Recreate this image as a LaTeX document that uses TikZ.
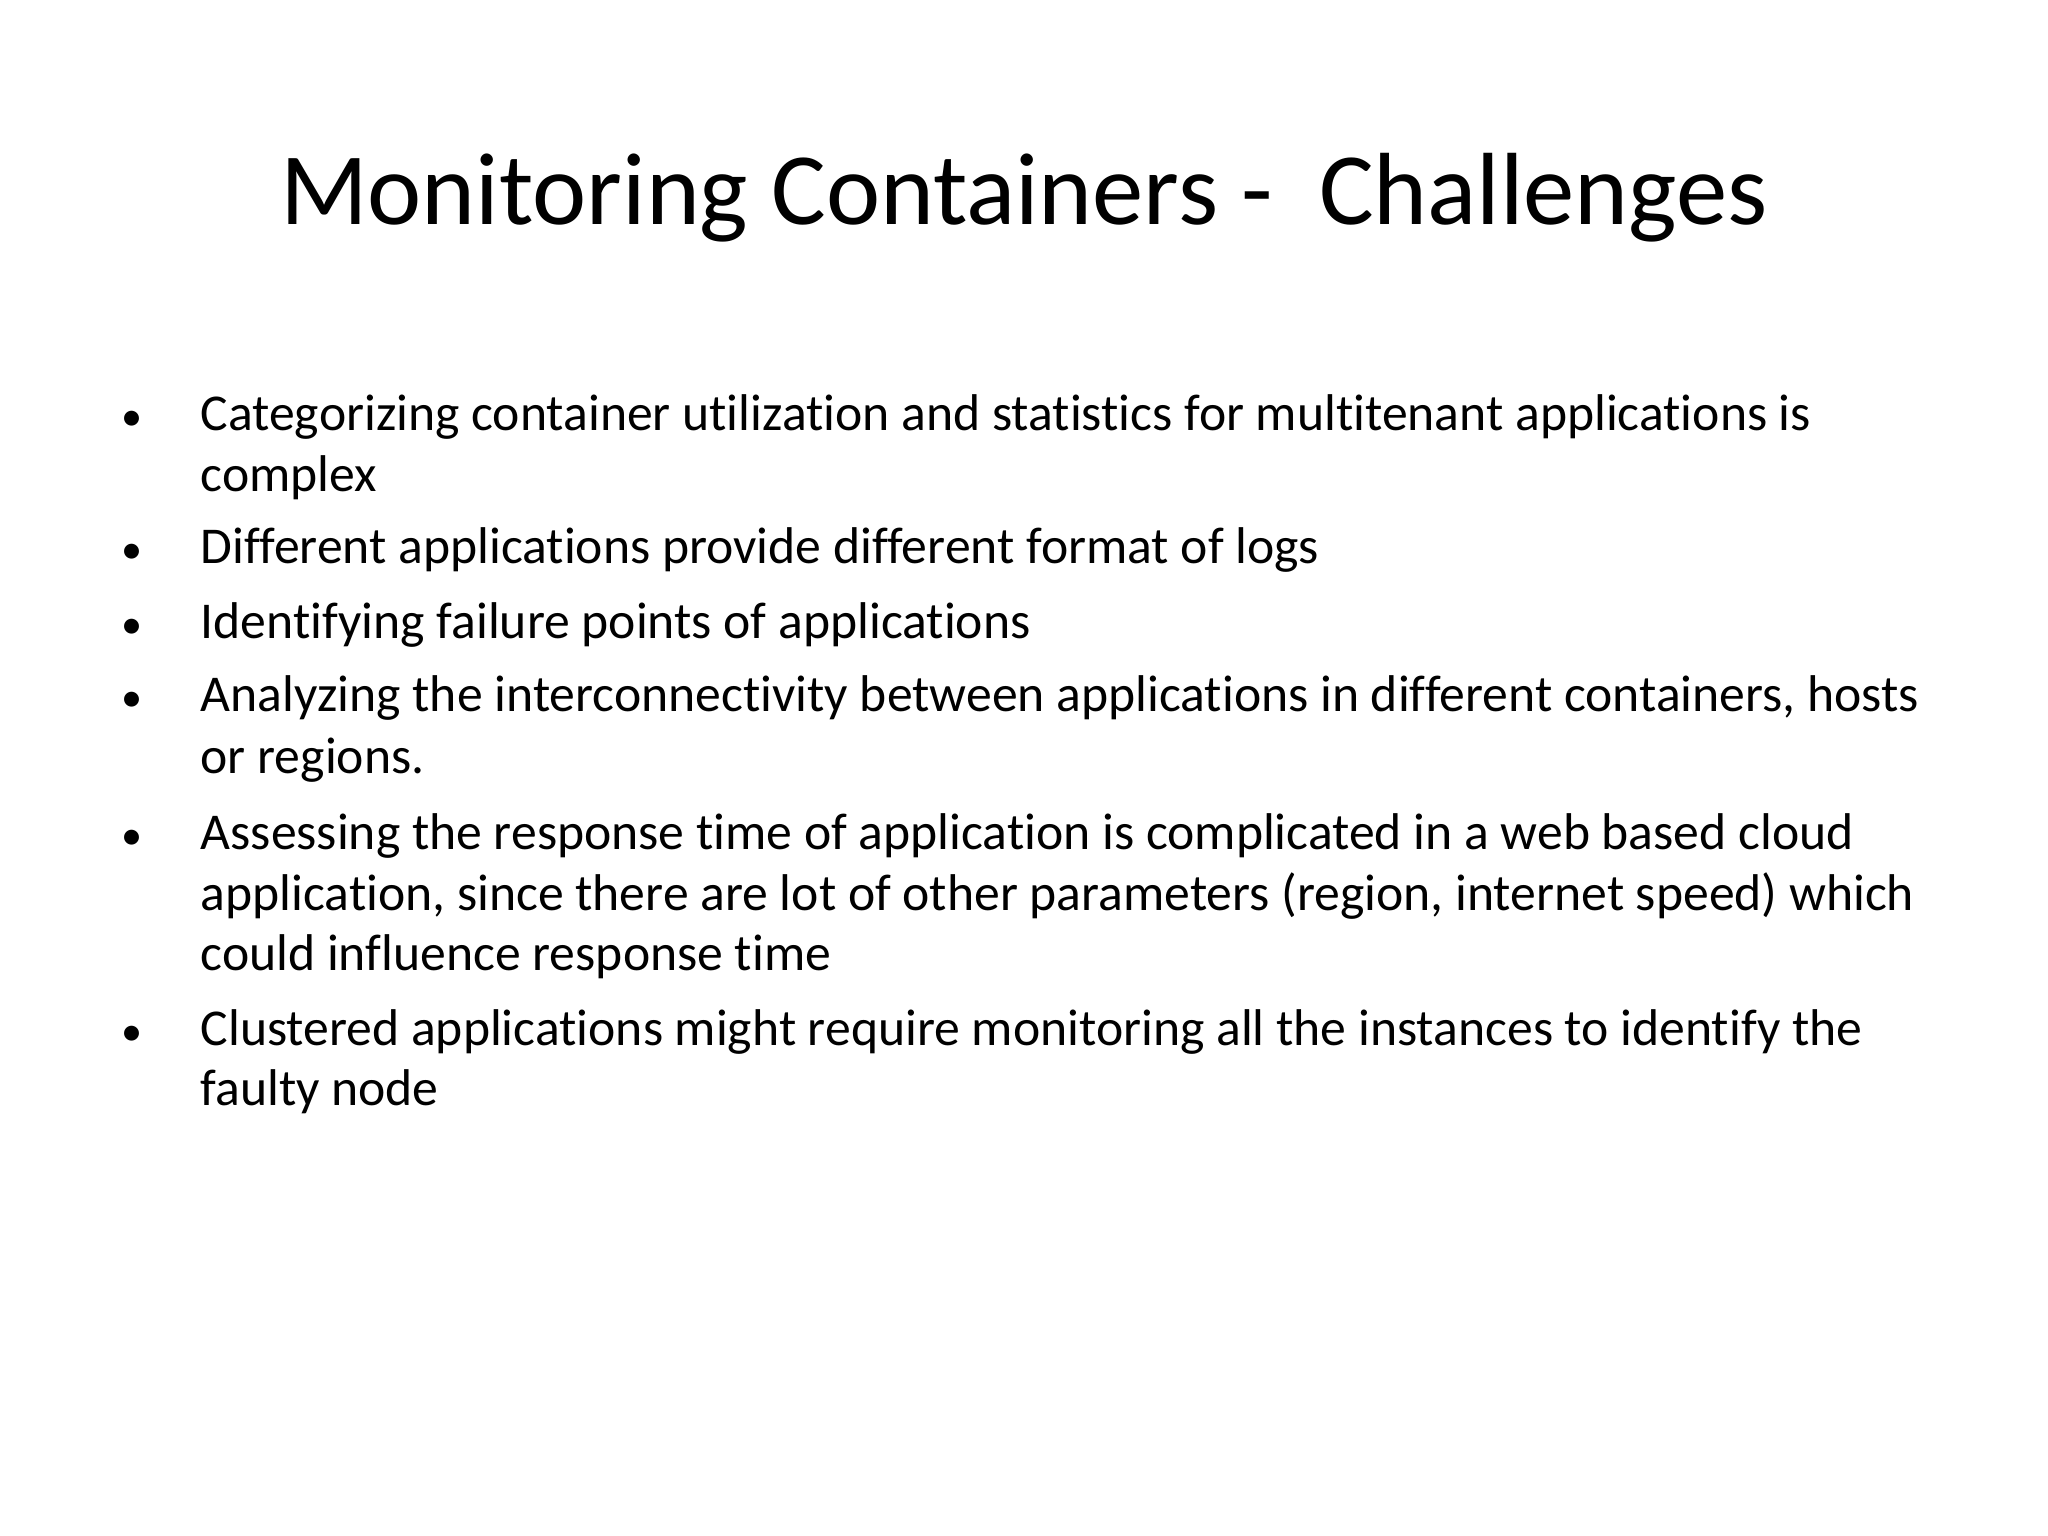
\documentclass[tikz,border=0pt]{standalone}
\usepackage{fontspec}
\setmainfont[Ligatures={NoCommon}]{Carlito}
\begin{document}
\begin{tikzpicture}[
  ln/.style={anchor=base west, inner sep=0pt, font=\fontsize{14.7pt}{17pt}\selectfont},
  bul/.style={anchor=base, inner sep=0pt, font=\fontsize{12pt}{17pt}\selectfont}]
\useasboundingbox[fill=white] (0,0) rectangle (20.48,-15.36);
\node[anchor=base, inner sep=0pt, font=\fontsize{29.2pt}{33pt}\selectfont] (title) at (10.24,-2.25) {Monitoring Containers -\ \ Challenges};
\def\bx{1.32}\def\tx{2.0}
\node[bul] (b1) at (\bx,-4.31) {•};
\node[ln] (l1a) at (\tx,-4.31) {Categorizing container utilization and statistics for multitenant applications is};
\node[ln] (l1b) at (\tx,-4.92) {complex};
\node[bul] (b2) at (\bx,-5.64) {•};
\node[ln] (l2) at (\tx,-5.64) {Different applications provide different format of logs};
\node[bul] (b3) at (\bx,-6.39) {•};
\node[ln] (l3) at (\tx,-6.39) {Identifying failure points of applications};
\node[bul] (b4) at (\bx,-7.12) {•};
\node[ln] (l4a) at (\tx,-7.12) {Analyzing the interconnectivity between applications in different containers, hosts};
\node[ln] (l4b) at (\tx,-7.73) {or regions.};
\node[bul] (b5) at (\bx,-8.49) {•};
\node[ln] (l5a) at (\tx,-8.49) {Assessing the response time of application is complicated in a web based cloud};
\node[ln] (l5b) at (\tx,-9.10) {application, since there are lot of other parameters (region, internet speed) which};
\node[ln] (l5c) at (\tx,-9.70) {could influence response time};
\node[bul] (b6) at (\bx,-10.45) {•};
\node[ln] (l6a) at (\tx,-10.45) {Clustered applications might require monitoring all the instances to identify the};
\node[ln] (l6b) at (\tx,-11.05) {faulty node};
\end{tikzpicture}
\end{document}
